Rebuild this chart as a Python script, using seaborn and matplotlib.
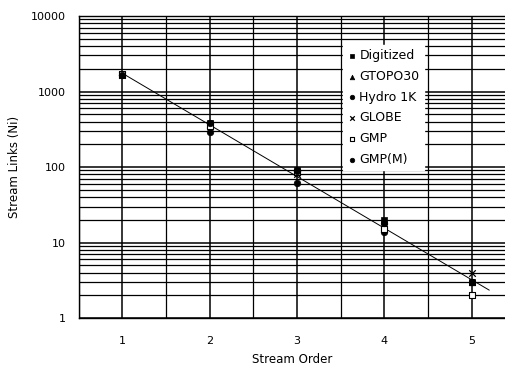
import numpy as np
import pandas as pd
import matplotlib
matplotlib.use("Agg")
import matplotlib.pyplot as plt
import seaborn as sns
from matplotlib.ticker import FixedLocator, LogLocator, NullFormatter

stream_order = [1, 2, 3, 4, 5]
digitized = [1650, 380, 90, 20, 3]
gtopo30 = [1700, 370, 85, 17, 3]
hydro1k = [1650, 290, 62, 14, 3]
globe = [1650, 360, 80, 16, 4]
gmp = [1700, 350, 85, 15, 2]
gmp_m = [1650, 385, 88, 18, 3]
series_names = ["Digitized", "GTOPO30", "Hydro 1K", "GLOBE", "GMP", "GMP(M)"]
y_ticks = [1, 10, 100, 1000, 10000]
x_ticks = [1, 2, 3, 4, 5]

sns.set_theme(style="white")
plt.rcParams['font.family'] = ['DejaVu Sans']
plt.rcParams['text.color'] = 'black'
plt.rcParams['axes.labelcolor'] = 'black'
plt.rcParams['xtick.color'] = 'black'
plt.rcParams['ytick.color'] = 'black'

fig = plt.figure(figsize=(5.05, 3.72), dpi=100)
ax = fig.add_axes([0.156, 0.145, 0.844, 0.812])

rows = []
for name, vals in zip(series_names, [digitized, gtopo30, hydro1k, globe, gmp, gmp_m]):
    for x, v in zip(stream_order, vals):
        rows.append({"order": x, "links": v, "series": name})
df = pd.DataFrame(rows)

# fitted regression line (log space)
lx = df["order"].to_numpy(float)
ly = np.log10(df["links"].to_numpy(float))
slope, icpt = np.polyfit(lx, ly, 1)
fx = np.array([1.0, 5.2])
ax.plot(fx, 10 ** (icpt + slope * fx), color="black", lw=0.7, zorder=3)

markers = {"Digitized": "s", "GTOPO30": "^", "Hydro 1K": "o", "GLOBE": "x",
           "GMP": "s", "GMP(M)": "o"}
for name in series_names:
    sub = df[df["series"] == name]
    kw = dict(marker=markers[name], s=22, color="black", zorder=4, ax=ax,
              label=name, legend=False)
    if name == "GMP":
        kw.update(facecolor="white", edgecolor="black", linewidth=0.8)
    elif name == "GLOBE":
        kw.update(linewidth=0.9)
    else:
        kw.update(edgecolor="black", linewidth=0.5)
    sns.scatterplot(data=sub, x="order", y="links", **kw)

ax.set_yscale("log")
ax.set_ylim(1, 10000)
ax.set_xlim(0.5, 5.38)

ax.yaxis.set_major_locator(FixedLocator(y_ticks))
ax.set_yticklabels([str(t) for t in y_ticks], fontsize=8)
ax.yaxis.set_minor_locator(LogLocator(base=10, subs=np.arange(2, 10)))
ax.yaxis.set_minor_formatter(NullFormatter())
ax.xaxis.set_major_locator(FixedLocator(x_ticks))
ax.xaxis.set_minor_locator(FixedLocator([0.5, 1.5, 2.5, 3.5, 4.5]))
ax.set_xticklabels([str(t) for t in x_ticks], fontsize=8)

ax.grid(True, which="major", axis="both", color="black", lw=1.1)
ax.grid(True, which="minor", axis="both", color="black", lw=0.9)
ax.tick_params(axis="y", which="both", length=0, pad=9.5, labelcolor="black")
ax.tick_params(axis="x", which="both", length=0, pad=13, labelcolor="black")

for side in ["left", "bottom", "top"]:
    ax.spines[side].set_visible(True)
    ax.spines[side].set_color("black")
    ax.spines[side].set_linewidth(1.0)
ax.spines["right"].set_visible(False)

ax.set_xlabel("Stream Order", fontsize=8.5, labelpad=5, color="black")
ax.set_ylabel("Stream Links (Ni)", fontsize=8.5, labelpad=7, color="black")

leg = ax.legend(loc="upper left", bbox_to_anchor=(0.62, 0.905), frameon=True,
                fontsize=9, handletextpad=0.15, borderpad=0.35, labelspacing=0.62,
                handlelength=0.8, markerscale=0.7, borderaxespad=0,
                labelcolor="black")
leg.get_frame().set_facecolor("white")
leg.get_frame().set_edgecolor("white")
leg.get_frame().set_alpha(1)
leg.get_frame().set_boxstyle("square", pad=0)

fig.savefig("out.png", dpi=100)
